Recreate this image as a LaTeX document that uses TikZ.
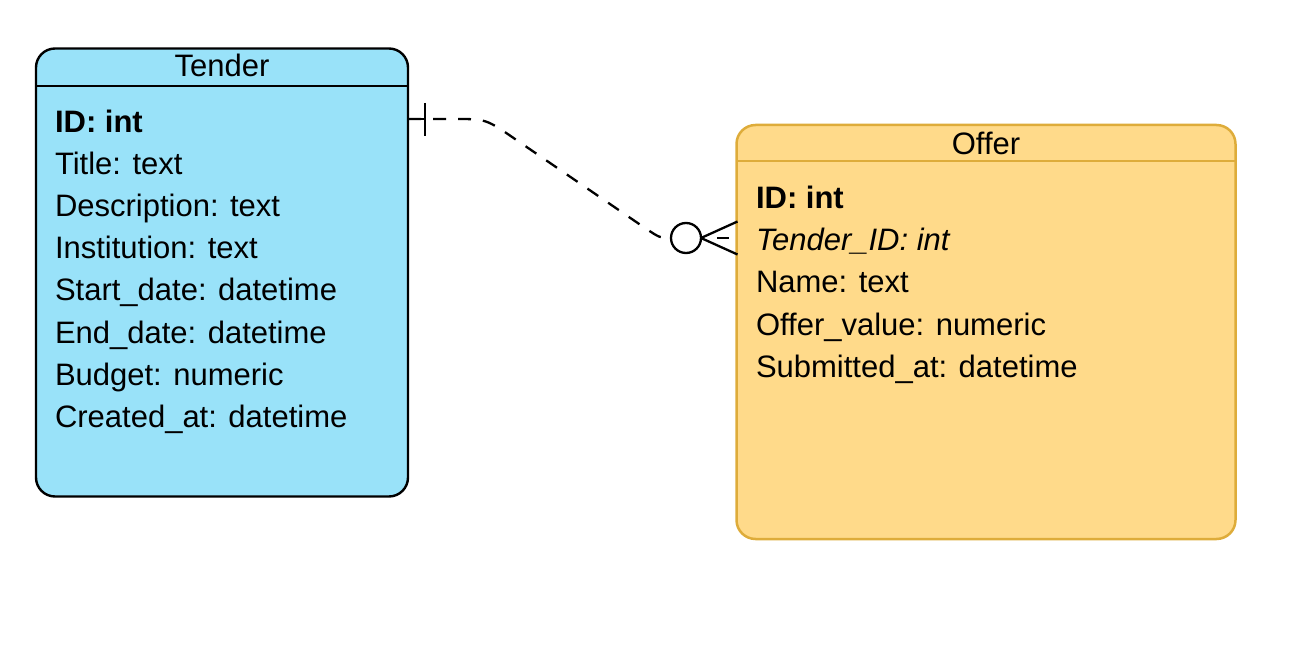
\documentclass[tikz,border=0pt]{standalone}
\usepackage{fontspec}
\setmainfont{Liberation Sans}
\definecolor{tenderfill}{RGB}{153,226,249}
\definecolor{offerfill}{RGB}{255,218,138}
\definecolor{offerdraw}{RGB}{222,172,58}
\begin{document}
\begin{tikzpicture}[x=1pt,y=-1pt,
  every node/.style={font=\fontsize{31}{37}\selectfont, inner sep=0pt, outer sep=0pt},
  tablebox/.style={rectangle, rounded corners=19pt, anchor=north west},
  rowtext/.style={anchor=base west},
  headtext/.style={anchor=base},
  conn/.style={line width=2.3pt, black},
  dashconn/.style={conn, dash pattern=on 13pt off 12pt}
]
\useasboundingbox (0,0) rectangle (1294,655);

% Tender table
\node[tablebox, draw=black, line width=2.4pt, fill=tenderfill,
      minimum width=372pt, minimum height=448pt] (tender) at (36,48.5) {};
\draw[line width=2.4pt] (36,86) -- (408,86);
\node[headtext] (tenderhead) at (222,77) {Tender};
\node[rowtext] (t1) at (55,133) {\bfseries ID: int};
\node[rowtext] (t2) at (55,175) {Title: text};
\node[rowtext] (t3) at (55,217) {Description: text};
\node[rowtext] (t4) at (55,259) {Institution: text};
\node[rowtext] (t5) at (55,301) {Start\_date: datetime};
\node[rowtext] (t6) at (55,343) {End\_date: datetime};
\node[rowtext] (t7) at (55,385) {Budget: numeric};
\node[rowtext] (t8) at (55,427) {Created\_at: datetime};

% Offer table
\node[tablebox, draw=offerdraw, line width=2.5pt, fill=offerfill,
      minimum width=499pt, minimum height=414pt] (offer) at (736.5,125) {};
\draw[line width=2.5pt, offerdraw] (736.5,161) -- (1235.5,161);
\node[headtext] (offerhead) at (986,155) {Offer};
\node[rowtext] (o1) at (756,209) {\bfseries ID: int};
\node[rowtext] (o2) at (756,251) {\itshape Tender\_ID: int};
\node[rowtext] (o3) at (756,293) {Name: text};
\node[rowtext] (o4) at (756,335) {Offer\_value: numeric};
\node[rowtext] (o5) at (756,377) {Submitted\_at: datetime};

% connector
\coordinate (src) at (408,119);
\coordinate (dst) at (737.5,238);
\node[circle, draw=black, line width=2.3pt, fill=white, minimum size=30pt] (zero) at (686,238) {};
\draw[dashconn] (src) -- (455,119) .. controls (486,119) .. (515,139)
   -- (645,228) .. controls (660,238) .. (zero.west);
% one (bar)
\draw[conn] (src) -- (425,119);
\draw[conn] (425,103) -- (425,136);
% many (crow's foot)
\draw[conn] (zero.east) -- (dst |- 0,221.5);
\draw[conn] (zero.east) -- (dst |- 0,254.5);
\draw[conn, dash pattern=on 0pt off 16pt on 12pt off 30pt] (zero.east) -- (dst);
\end{tikzpicture}
\end{document}
